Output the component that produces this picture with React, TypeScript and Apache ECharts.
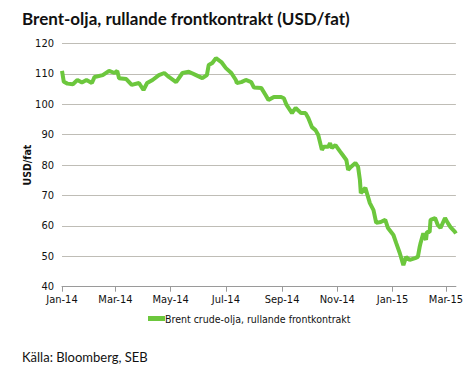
import React, { useEffect, useRef } from "react";
import * as echarts from "echarts";

const TITLE = "Brent-olja, rullande frontkontrakt (USD/fat)";
const SOURCE = "Källa: Bloomberg, SEB";
const SERIES_NAME = "Brent crude-olja, rullande frontkontrakt";
const Y_NAME = "USD/fat";

const dates: string[] = [
  "2014-01-01", "2014-01-03", "2014-01-07", "2014-01-13", "2014-01-18", "2014-01-23", "2014-01-28",
  "2014-02-03", "2014-02-06", "2014-02-15", "2014-02-22", "2014-02-28", "2014-03-03", "2014-03-05",
  "2014-03-13", "2014-03-19", "2014-03-27", "2014-04-01", "2014-04-05", "2014-04-11", "2014-04-18",
  "2014-04-24", "2014-04-29", "2014-05-07", "2014-05-14", "2014-05-21", "2014-05-29", "2014-06-05",
  "2014-06-10", "2014-06-12", "2014-06-16", "2014-06-20", "2014-06-26", "2014-07-01", "2014-07-07",
  "2014-07-12", "2014-07-13", "2014-07-18", "2014-07-23", "2014-07-29", "2014-08-01", "2014-08-09",
  "2014-08-14", "2014-08-17", "2014-08-23", "2014-08-31", "2014-09-03", "2014-09-06", "2014-09-12",
  "2014-09-16", "2014-09-22", "2014-09-27", "2014-09-30", "2014-10-04", "2014-10-08", "2014-10-11",
  "2014-10-15", "2014-10-17", "2014-10-22", "2014-10-24", "2014-10-26", "2014-10-30", "2014-11-04",
  "2014-11-07", "2014-11-11", "2014-11-13", "2014-11-16", "2014-11-21", "2014-11-24", "2014-11-26",
  "2014-11-27", "2014-12-02", "2014-12-07", "2014-12-11", "2014-12-14", "2014-12-19", "2014-12-24",
  "2014-12-27", "2015-01-02", "2015-01-05", "2015-01-09", "2015-01-13", "2015-01-16", "2015-01-20",
  "2015-01-26", "2015-01-29", "2015-01-31", "2015-02-01", "2015-02-04", "2015-02-07", "2015-02-08",
  "2015-02-11", "2015-02-12", "2015-02-17", "2015-02-20", "2015-02-23", "2015-02-28", "2015-03-03",
  "2015-03-06", "2015-03-11", "2015-03-12",
];

const values: number[] = [
  111, 107.4, 106.8, 106.6, 108, 107.2, 108,
  107, 109, 109.6, 111, 110.3, 111, 108.6,
  108.3, 106.4, 107, 104.7, 107, 108, 109.6,
  110.3, 109, 107.3, 110.3, 110.7, 109.6, 108.6,
  109.6, 112.9, 113.6, 115.2, 113.9, 111.9, 110.3,
  108, 107, 107.3, 108, 107.3, 105.5, 105.4,
  103, 101.4, 102.4, 102.4, 102, 99.8, 97.1,
  98.8, 97.1, 97.1, 95.5, 92.5, 91.5, 89.9,
  85, 86, 86, 87.2, 85.6, 86.6, 84.5,
  83.3, 81.7, 78.4, 79.4, 80.7, 79.4, 75.1,
  70.8, 72.5, 67.5, 65.2, 61, 61.3, 62,
  59.3, 57, 54.4, 51.1, 47.1, 49.8, 48.8,
  49.4, 49.8, 53.1, 54.4, 57.6, 55.4, 58,
  58, 62, 62.6, 60.3, 59.3, 62.6, 61,
  59.6, 58, 57.5,
];

const tickDates: string[] = [
  "2014-01-01", "2014-03-01", "2014-05-01", "2014-07-01",
  "2014-09-01", "2014-11-01", "2015-01-01", "2015-03-01",
];
const tickLabels: string[] = [
  "Jan-14", "Mar-14", "May-14", "Jul-14", "Sep-14", "Nov-14", "Jan-15", "Mar-15",
];

const START = "2014-01-01";
const END = "2015-03-12";

const dayOf = (s: string) => {
  const [y, m, d] = s.split("-").map(Number);
  const [y0, m0, d0] = START.split("-").map(Number);
  return Math.round((Date.UTC(y, m - 1, d) - Date.UTC(y0, m0 - 1, d0)) / 86400000);
};

export default function App() {
  const ref = useRef<HTMLDivElement>(null);
  useEffect(() => {
    if (!ref.current) return;
    const chart = echarts.init(ref.current, undefined, { renderer: "svg" });
    const tickDays = tickDates.map(dayOf);
    const labelMap: Record<number, string> = {};
    tickDays.forEach((d, i) => (labelMap[d] = tickLabels[i]));
    const axisFont = "DejaVu Sans Condensed, DejaVu Sans, sans-serif";
    chart.setOption({
      animation: false,
      backgroundColor: "#ffffff",
      title: [
        {
          text: TITLE,
          left: 17,
          top: 5,
          textStyle: { fontFamily: "Lato", fontWeight: "bold", fontSize: 17, color: "#111111" },
        },
        {
          text: SOURCE,
          left: 17,
          top: 345,
          textStyle: { fontFamily: "Lato", fontWeight: "normal", fontSize: 13, color: "#111111" },
        },
      ],
      legend: {
        left: 143,
        top: 308,
        itemWidth: 17,
        itemHeight: 5,
        itemGap: 0,
        icon: "rect",
        textStyle: { fontFamily: axisFont, fontSize: 10.5, color: "#111111", padding: [0, 0, 0, -5] },
        data: [SERIES_NAME],
      },
      grid: { left: 62, right: 8, top: 43.5, bottom: 81.3, containLabel: false },
      xAxis: {
        type: "value",
        min: 0,
        max: dayOf(END),
        axisLine: { show: true, lineStyle: { color: "#9a9a9a", width: 1 } },
        axisTick: { show: true, length: 5, customValues: tickDays, lineStyle: { color: "#9a9a9a" } },
        axisLabel: {
          customValues: tickDays,
          formatter: (v: number) => labelMap[Math.round(v)] ?? "",
          fontFamily: axisFont,
          fontSize: 11,
          color: "#111111",
          margin: 7,
        },
        splitLine: { show: false },
      },
      yAxis: {
        type: "value",
        min: 40,
        max: 120,
        interval: 10,
        name: Y_NAME,
        nameLocation: "middle",
        nameGap: 30,
        nameMoveOverlap: false,
        nameRotate: 90,
        nameTextStyle: { fontFamily: axisFont, fontSize: 10.5, fontWeight: "bold", color: "#111111" },
        axisLine: { show: false },
        axisTick: { show: false },
        axisLabel: { fontFamily: axisFont, fontSize: 11, color: "#111111", margin: 8 },
        splitLine: { show: true, lineStyle: { color: "#bfbdb6", width: 1 } },
      },
      series: [
        {
          name: SERIES_NAME,
          type: "line",
          data: dates.map((d, i) => [dayOf(d), values[i]]),
          showSymbol: false,
          symbol: "none",
          lineStyle: { color: "#6cc73d", width: 4 },
          itemStyle: { color: "#6cc73d" },
        },
      ],
    });
    return () => chart.dispose();
  }, []);
  return (
    <div
      ref={ref}
      style={{ position: "fixed", left: 0, top: 0, width: 466, height: 368 }}
    />
  );
}
